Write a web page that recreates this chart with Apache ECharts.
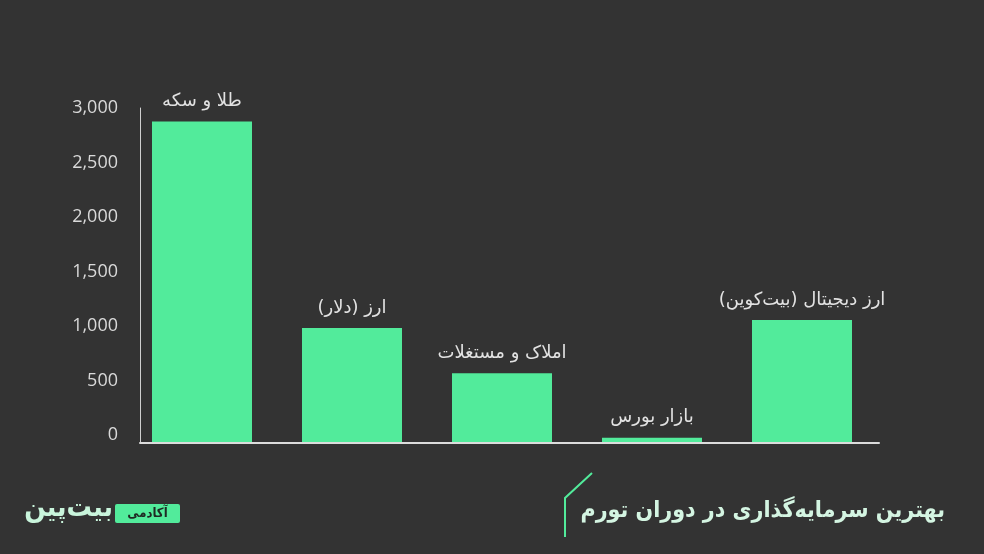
<!DOCTYPE html>
<html>
<head>
<meta charset="utf-8">
<script src="https://cdn.jsdelivr.net/npm/echarts@6/dist/echarts.min.js"></script>
<style>
html,body{margin:0;padding:0;background:#333333;}
#c{width:984px;height:554px;}
</style>
</head>
<body>
<div id="c"></div>
<script>
const categories = ['طلا و سکه', 'ارز (دلار)', 'املاک و مستغلات', 'بازار بورس', 'ارز دیجیتال (بیت‌کوین)'];
const values = [2940, 1045, 630, 40, 1120];
const yTicks = [0, 500, 1000, 1500, 2000, 2500, 3000];
const title = 'بهترین سرمایه‌گذاری در دوران تورم';
const brandName = 'بیت‌پین';
const brandTag = 'آکادمی';

const chart = echarts.init(document.getElementById('c'), null, {renderer: 'canvas'});
const fa = '"DejaVu Sans", sans-serif';
const faC = '"DejaVu Sans Condensed", "DejaVu Sans", sans-serif';
chart.setOption({
  backgroundColor: '#333333',
  animation: false,
  grid: [
    {left: 127, width: 750, top: 108.5, bottom: 112},
    {left: 140, right: 105, top: 108, bottom: 111}
  ],
  xAxis: [
    {type: 'category', gridIndex: 0, data: categories,
     axisLine: {show: false}, axisTick: {show: false}, axisLabel: {show: false}},
    {type: 'value', gridIndex: 1, min: 0, max: 1,
     axisLine: {show: true, lineStyle: {color: '#dcdcdc', width: 2}},
     axisTick: {show: false}, axisLabel: {show: false}, splitLine: {show: false}}
  ],
  yAxis: [
    {type: 'value', gridIndex: 0, min: 0, max: 3060, interval: 500,
     axisLine: {show: false}, axisTick: {show: false}, splitLine: {show: false},
     axisLabel: {
       show: true, margin: 9, color: '#d9d9d9', fontSize: 18,
       fontFamily: '"Open Sans", sans-serif', verticalAlign: 'bottom',
       lineHeight: 14,
       showMaxLabel: false,
       formatter: function (v) { return yTicks.indexOf(v) >= 0 ? v.toLocaleString('en-US') : ''; }
     }},
    {type: 'value', gridIndex: 1, min: 0, max: 1,
     axisLine: {show: true, lineStyle: {color: '#d0d0d0', width: 1}},
     axisTick: {show: false}, axisLabel: {show: false}, splitLine: {show: false}}
  ],
  series: [{
    type: 'bar', xAxisIndex: 0, yAxisIndex: 0,
    data: values, barWidth: 100,
    itemStyle: {color: '#52EB9B'},
    label: {
      show: true, position: 'top', distance: 11,
      color: '#e2e2e2', fontSize: 18, fontFamily: fa,
      formatter: function (p) { return categories[p.dataIndex]; }
    }
  }],
  graphic: [
    {type: 'polyline', shape: {points: [[565, 537], [565, 498], [592, 473]]},
     style: {stroke: '#52EB9B', lineWidth: 2, fill: null}},
    {type: 'text', x: 945, y: 511,
     style: {text: title, fill: '#d4f5e2', font: 'bold 23px ' + faC, align: 'right', verticalAlign: 'middle'}},
    {type: 'rect', shape: {x: 115, y: 504, width: 65, height: 19, r: 2},
     style: {fill: '#52EB9B'}},
    {type: 'text', x: 147.5, y: 514,
     style: {text: brandTag, fill: '#1f2a24', font: 'bold 13px ' + faC, align: 'center', verticalAlign: 'middle'}},
    {type: 'text', x: 113, y: 509,
     style: {text: brandName, fill: '#c9f5dc', font: 'bold 28px ' + faC, align: 'right', verticalAlign: 'middle'}}
  ]
});
</script>
</body>
</html>
